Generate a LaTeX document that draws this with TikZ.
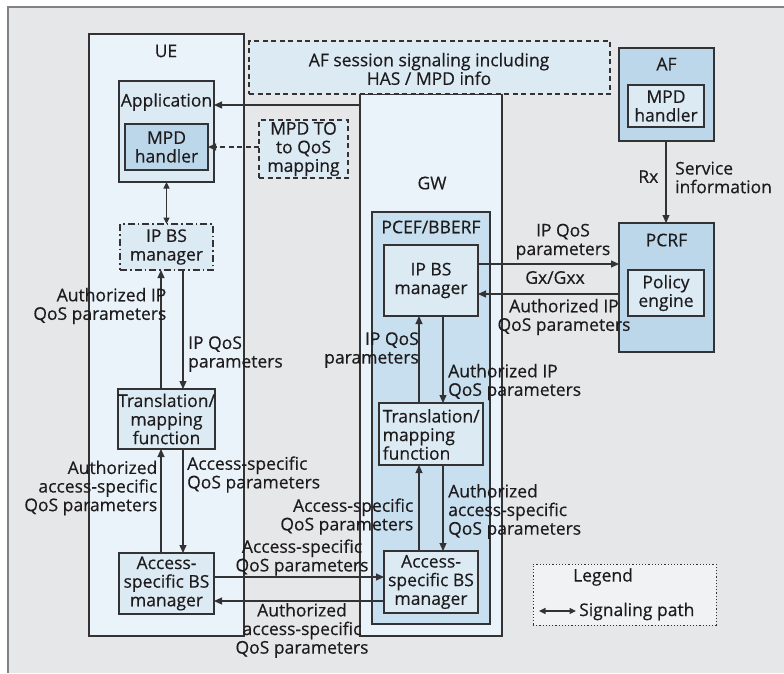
\documentclass[tikz,border=0pt]{standalone}
\usepackage{fontspec}
\setmainfont{Open Sans}
\newfontfamily\lblfont[FakeBold=0.4]{Open Sans}
\usetikzlibrary{arrows.meta}

\definecolor{bggray}{HTML}{E6E7E9}
\definecolor{framegray}{HTML}{808285}
\definecolor{inklight}{HTML}{333335}
\definecolor{pale}{HTML}{EBF3FA}
\definecolor{light}{HTML}{DCEAF4}
\definecolor{mid}{HTML}{C7DFEF}
\definecolor{deep}{HTML}{BCD7EA}
\definecolor{legendfill}{HTML}{F1F2F4}
\definecolor{txt}{HTML}{1E1B1C}

\tikzset{
  box/.style={draw=inklight, line width=1.2pt, inner sep=0pt, outer sep=0pt},
  sz/.style 2 args={minimum width=#1pt, minimum height=#2pt},
  lbl/.style={inner sep=0pt, text=txt, font=\lblfont\fontsize{17.5}{18.6}\selectfont},
  arr/.style={draw=inklight, line width=1.1pt, -{Triangle[length=8pt,width=7pt]}},
  darr/.style={draw=inklight, line width=1.1pt, {Triangle[length=6.5pt,width=6pt]}-{Triangle[length=6.5pt,width=6pt]}},
}

\begin{document}
\begin{tikzpicture}[x=1pt,y=-1pt]
\useasboundingbox (0,0) rectangle (784,673);

% page frame
\fill[bggray] (8,7) rectangle (784,673);
\draw[framegray, line width=1.3pt] (8,673) -- (8,7) -- (784,7);

% large domains
\node[box, sz={155}{602}, fill=pale] (ue) at (166.5,335) {};
\node[box, sz={142}{542}, fill=pale] (gw) at (431,365) {};
\node[box, sz={361}{53}, fill=light, dashed, dash pattern=on 5pt off 3.5pt] (sess) at (429.5,67.5) {};
\node[lbl, align=center] (sesstxt) at (429,69) {AF session signaling including\\HAS / MPD info};
\node[lbl] (uelbl) at (166,51) {UE};
\node[lbl] (gwlbl) at (432,183) {GW};

% UE side
\node[box, sz={95}{101}, fill=light] (app) at (166.5,131.5) {};
\node[lbl] (applbl) at (166.5,102) {Application};
\node[box, sz={83}{46}, fill=deep, lbl, align=center] (mpdue) at (166.5,147) {MPD\\handler};
\node[box, sz={89}{58}, fill=light, dashed, dash pattern=on 5pt off 3.5pt, lbl, align=center] (mpdto) at (303.5,149) {MPD TO\\to QoS\\mapping};
\node[box, sz={93}{46}, fill=light, dash pattern=on 7pt off 3pt on 1.5pt off 3pt, lbl, align=center] (ipbsue) at (166.5,247) {IP BS\\manager};
\node[box, sz={95}{60}, fill=light, lbl, align=center] (true) at (166.5,419) {Translation/\\mapping\\function};
\node[box, sz={95}{61}, fill=light, lbl, align=center] (acue) at (166.5,583.5) {Access-\\specific BS\\manager};

% GW side
\node[box, sz={118}{412}, fill=mid] (pcef) at (431,418) {};
\node[lbl] (pceflbl) at (431,227) {PCEF/BBERF};
\node[box, sz={94}{71}, fill=light, lbl, align=center] (ipbsgw) at (431,280.5) {IP BS\\manager};
\node[box, sz={104}{62}, fill=light] (trgw) at (431,434) {};
\node[lbl, align=left, anchor=west] (trgwtxt) at (382.5,434.5) {Translation/\\mapping\\function};
\node[box, sz={94}{62}, fill=light, lbl, align=center] (acgw) at (431,582) {Access-\\specific BS\\manager};

% AF and PCRF
\node[box, sz={95}{93}, fill=deep] (af) at (666.5,94.5) {};
\node[lbl] (aflbl) at (666.5,64) {AF};
\node[box, sz={76}{42}, fill=light, lbl, align=center] (mpdaf) at (666,106) {MPD\\handler};
\node[box, sz={95}{129}, fill=deep] (pcrf) at (666.5,287.5) {};
\node[lbl] (pcrflbl) at (666.5,240) {PCRF};
\node[box, sz={76}{46}, fill=light, lbl, align=center] (policy) at (666,293) {Policy\\engine};

% legend
\node[box, sz={183}{61}, fill=legendfill, dotted, line width=1pt] (legend) at (624.5,594.5) {};
\node[lbl] (legendlbl) at (603,577) {Legend};
\coordinate (legA) at (539,611);
\coordinate (legB) at (576,611);
\draw[darr] (legA) -- (legB);
\node[lbl, anchor=west] (legtxt) at (579,611.5) {Signaling path};

% UE internal signalling
\draw[arr] (gw.west |- 0,105) -- (app.east |- 0,105);
\draw[arr, dashed, dash pattern=on 5pt off 3.5pt] (mpdto.west |- 0,147) -- (mpdue.east |- 0,147);
\draw[darr] (app.south) -- (ipbsue.north);
\draw[arr] (true.north -| 161,0) -- (ipbsue.south -| 161,0);
\draw[arr] (ipbsue.south -| 183,0) -- (true.north -| 183,0);
\draw[arr] (acue.north -| 161,0) -- (true.south -| 161,0);
\draw[arr] (true.south -| 183,0) -- (acue.north -| 183,0);

\node[lbl, align=right, anchor=east] (l1) at (166.5,306) {Authorized IP\\QoS parameters};
\node[lbl, align=left, anchor=west] (l2) at (188,354) {IP QoS\\parameters};
\node[lbl, align=right, anchor=east] (l3) at (157.5,488) {Authorized\\access-specific\\QoS parameters};
\node[lbl, align=left, anchor=west] (l4) at (187,474.5) {Access-specific\\QoS parameters};

% UE <-> GW access signalling
\draw[arr] (acue.east |- 0,577) -- (acgw.west |- 0,577);
\draw[arr] (acgw.west |- 0,601) -- (acue.east |- 0,601);
\node[lbl, align=center] (l5) at (302,557.5) {Access-specific\\QoS parameters};
\node[lbl, align=center] (l6) at (302,630.5) {Authorized\\access-specific\\QoS parameters};

% GW internal signalling
\draw[arr] (trgw.north -| 419,0) -- (ipbsgw.south -| 419,0);
\draw[arr] (ipbsgw.south -| 443,0) -- (trgw.north -| 443,0);
\draw[arr] (acgw.north -| 419,0) -- (trgw.south -| 419,0);
\draw[arr] (trgw.south -| 443,0) -- (acgw.north -| 443,0);
\node[lbl, align=right, anchor=east] (l7) at (419,350) {IP QoS\\parameters};
\node[lbl, align=left, anchor=west] (l8) at (448,382) {Authorized IP\\QoS parameters};
\node[lbl, align=left, anchor=west] (l9) at (448,511.5) {Authorized\\access-specific\\QoS parameters};
\node[lbl, align=right, anchor=east] (l10) at (413.5,516.5) {Access-specific\\QoS parameters};

% Gx/Gxx and Rx
\draw[arr] (ipbsgw.east |- 0,264) -- (pcrf.west |- 0,264);
\draw[arr] (pcrf.west |- 0,294) -- (ipbsgw.east |- 0,294);
\node[lbl, align=center] (l11) at (563,241.5) {IP QoS\\parameters};
\node[lbl] (l12) at (555,277.5) {Gx/Gxx};
\node[lbl, align=center] (l13) at (564,317) {Authorized IP\\QoS parameters};
\draw[arr] (af.south -| 666,0) -- (pcrf.north -| 666,0);
\node[lbl, anchor=east] (l14) at (658.5,176.5) {Rx};
\node[lbl, align=left, anchor=west] (l15) at (675,177.5) {Service\\information};
\end{tikzpicture}
\end{document}
